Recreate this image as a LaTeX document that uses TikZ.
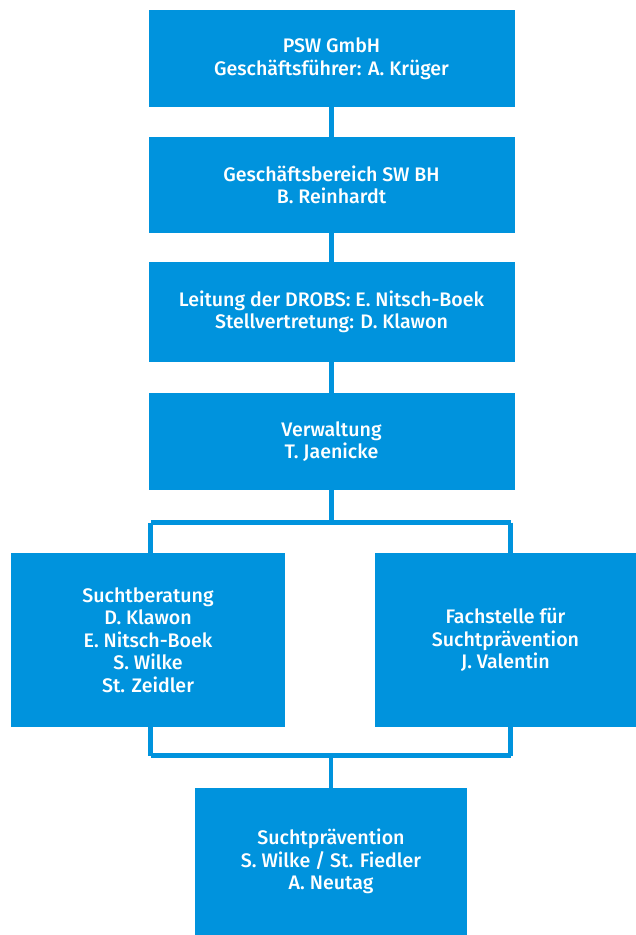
\documentclass[tikz,border=0pt]{standalone}
\usepackage{fontspec}
\setmainfont{Fira Sans Medium}
\definecolor{pswblue}{HTML}{0093DD}
\begin{document}
\begin{tikzpicture}[x=1pt,y=-1pt,
  orgbox/.style={fill=pswblue, draw=none, text=white, align=center,
    inner sep=0pt, font=\fontsize{19.6}{22.6}\selectfont},
  conn/.style={draw=pswblue, line width=4.5pt}]
\useasboundingbox (0,0) rectangle (636,935);
\node[orgbox, minimum width=366pt, minimum height=97pt] (b1) at (331.5,58.5)
  {PSW GmbH\\Geschäftsführer: A. Krüger};
\node[orgbox, minimum width=366pt, minimum height=96pt] (b2) at (331.5,185)
  {Geschäftsbereich SW BH\\B. Reinhardt};
\node[orgbox, minimum width=366pt, minimum height=100pt] (b3) at (331.5,312)
  {Leitung der DROBS: E. Nitsch-Boek\\Stellvertretung: D. Klawon};
\node[orgbox, minimum width=366pt, minimum height=97pt] (b4) at (331.5,441.5)
  {Verwaltung\\T. Jaenicke};
\node[orgbox, minimum width=274pt, minimum height=174pt] (l) at (148,640)
  {Suchtberatung\\D. Klawon\\E. Nitsch-Boek\\S. Wilke\\St. Zeidler};
\node[orgbox, minimum width=261pt, minimum height=174pt] (r) at (505.5,640)
  {Fachstelle für\\Suchtprävention\\J. Valentin};
\node[orgbox, minimum width=272pt, minimum height=147pt] (bt) at (331,861.5)
  {Suchtprävention\\S. Wilke / St. Fiedler\\A. Neutag};
\coordinate (tl) at (150.5,522.5);
\coordinate (tr) at (510.5,522.5);
\coordinate (ul) at (150.5,755.5);
\coordinate (ur) at (510.5,755.5);
\draw[conn] (b1.south) -- (b2.north);
\draw[conn] (b2.south) -- (b3.north);
\draw[conn] (b3.south) -- (b4.north);
\draw[conn] (b4.south) -- (b4.south |- tl);
\draw[conn] (tl) -- (tr);
\draw[conn] (tl) -- (tl |- l.north);
\draw[conn] (tr) -- (tr |- r.north);
\draw[conn] (ul) -- (tl |- l.south);
\draw[conn] (ur) -- (tr |- r.south);
\draw[conn] (ul) -- (ur);
\draw[conn] (bt.north) -- (bt.north |- ul);
\end{tikzpicture}
\end{document}
